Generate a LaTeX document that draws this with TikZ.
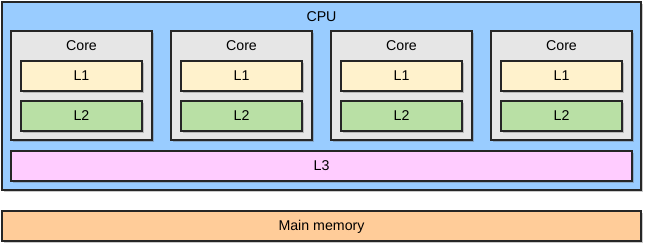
\documentclass[tikz,border=0pt]{standalone}
\usepackage{fontspec}
\setmainfont{Liberation Sans}
\usetikzlibrary{shadows}
\definecolor{cpublue}{HTML}{99CCFF}
\definecolor{coregray}{HTML}{E6E6E6}
\definecolor{lone}{HTML}{FFF2CC}
\definecolor{ltwo}{HTML}{B9E0A5}
\definecolor{lthree}{HTML}{FFCCFF}
\definecolor{mem}{HTML}{FFCC99}
\begin{document}
\begin{tikzpicture}[x=1pt,y=-1pt,
  box/.style={draw=black!85,line width=1.1pt,drop shadow={shadow xshift=2pt,shadow yshift=-2pt,opacity=0.35,fill=black!60}},
  lbl/.style={font=\fontsize{14.2}{16}\selectfont,inner sep=0pt}]
\useasboundingbox (0,0) rectangle (645,246);
% CPU
\draw[box,fill=cpublue] (2,2) rectangle (641,190);
\node[lbl] (cpu) at (321.5,17) {CPU};
% cores
\foreach \i/\x in {1/11,2/171,3/331,4/491}{
  \draw[box,fill=coregray] (\x,31) rectangle ++(141,109);
  \node[lbl] (core\i) at (\x+70.5,46) {Core};
  \draw[box,fill=lone] (\x+10,61) rectangle ++(121,30);
  \node[lbl] (lone\i) at (\x+70.5,76) {L1};
  \draw[box,fill=ltwo] (\x+10,101) rectangle ++(121,30);
  \node[lbl] (ltwo\i) at (\x+70.5,116) {L2};
}
\draw[box,fill=lthree] (11,151) rectangle (632,181);
\node[lbl] (lthree) at (321.5,166) {L3};
\draw[box,fill=mem] (2,211) rectangle (641,241);
\node[lbl] (mem) at (321.5,226.5) {Main memory};
\end{tikzpicture}
\end{document}
